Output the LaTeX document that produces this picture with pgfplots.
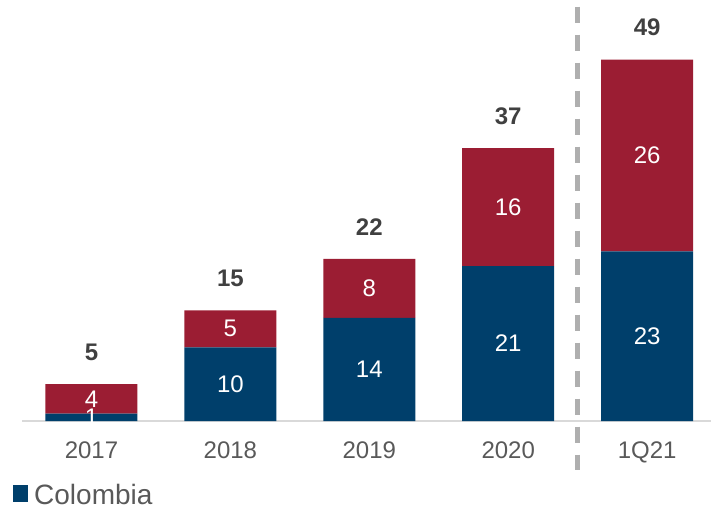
\documentclass[border=0pt]{standalone}
\usepackage{pgfplots}
\pgfplotsset{compat=1.18}
\usepackage{fontspec}
\setmainfont{Liberation Sans}
\definecolor{colblue}{RGB}{0,63,107}
\definecolor{colred}{RGB}{155,29,51}
\definecolor{txtgray}{RGB}{89,89,89}
\definecolor{totgray}{RGB}{64,64,64}
\definecolor{axgray}{RGB}{217,217,217}
\definecolor{dashgray}{RGB}{175,175,175}

\begin{document}
\begin{tikzpicture}
\begin{axis}[
    name=ax,
    scale only axis,
    width=689pt, height=421pt,
    xmin=-0.5, xmax=4.46, ymin=0, ymax=57.1,
    ybar stacked, bar width=0.662,
    clip=false,
    axis x line=bottom, axis y line=none,
    x axis line style={-, draw=axgray, line width=1.5pt},
    xtick={0,1,2,3,4},
    xticklabels={2017,2018,2019,2020,1Q21},
    xtick style={draw=none},
    xticklabel style={font=\fontsize{24}{28}\selectfont, text=txtgray, yshift=-15pt},
    /pgf/number format/assume math mode=true,
    legend style={draw=none, fill=none, at={(0,0)}, anchor=south west,
        xshift=-12pt, yshift=-89pt,
        font=\fontsize{28}{30}\selectfont, text=txtgray},
]
% Colombia
\addplot[fill=colblue, draw=none, point meta=rawy,
    nodes near coords={\pgfmathprintnumber{\pgfplotspointmeta}},
    every node near coord/.style={anchor=center, text=white,
        font=\fontsize{24}{28}\selectfont},
    legend image code/.code={\fill[colblue] (0pt,-7pt) rectangle (15pt,10pt);}]
    coordinates {(0,1) (1,10) (2,14) (3,21) (4,23)};
\addlegendentry{\hspace*{4pt}Colombia}
% second country
\addplot[fill=colred, draw=none, point meta=rawy, forget plot,
    nodes near coords={\pgfmathprintnumber{\pgfplotspointmeta}},
    every node near coord/.style={anchor=center, text=white,
        font=\fontsize{24}{28}\selectfont}]
    coordinates {(0,4) (1,5) (2,8) (3,16) (4,26)};
\draw[dashgray, line width=4.5pt, dash pattern=on 16pt off 12pt]
    (axis cs:3.5,56.2) -- (axis cs:3.5,-6.65);
\end{axis}
% totals
\begin{axis}[
    at={(ax.south west)}, anchor=south west,
    scale only axis,
    width=689pt, height=421pt,
    xmin=-0.5, xmax=4.46, ymin=0, ymax=57.1,
    hide axis, clip=false,
    /pgf/number format/assume math mode=true,
]
\addplot[only marks, mark=none, point meta=y,
    nodes near coords={\pgfmathprintnumber{\pgfplotspointmeta}},
    every node near coord/.style={anchor=south, text=totgray,
        font=\fontsize{24}{28}\selectfont\bfseries, yshift=20pt}]
    coordinates {(0,5) (1,15) (2,22) (3,37) (4,49)};
\end{axis}
\pgfresetboundingbox
\path[use as bounding box] ([xshift=-22pt,yshift=-90pt]ax.south west) rectangle (ax.north east);
\end{tikzpicture}
\end{document}
